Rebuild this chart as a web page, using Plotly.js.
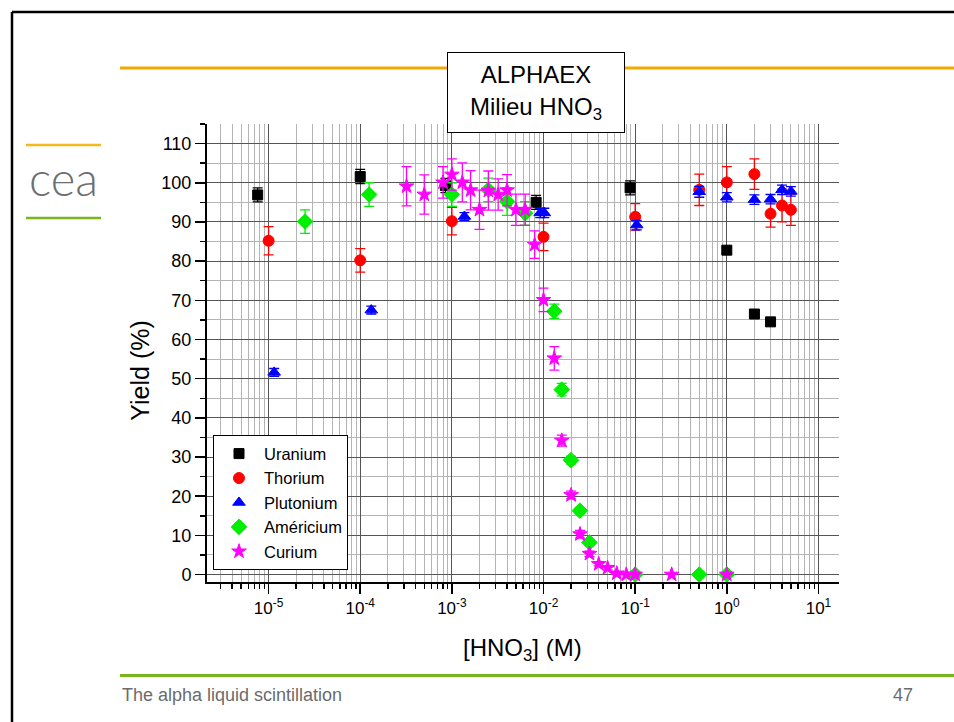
<!DOCTYPE html>
<html>
<head>
<meta charset="utf-8">
<script src="https://cdn.plot.ly/plotly-3.0.1.min.js"></script>
<style>
html,body{margin:0;padding:0;background:#fff;}
#chart{width:954px;height:722px;}
</style>
</head>
<body>
<div id="chart"></div>
<script>
// ---- data ----
var seriesNames = ['Uranium', 'Thorium', 'Plutonium', 'Américium', 'Curium'];

var uraniumX = [7.6e-6, 1e-4, 8.5e-4, 8.3e-3, 0.088, 1, 2, 3];
var uraniumY = [96.9, 101.6, 99.3, 95.0, 98.7, 82.8, 66.5, 64.5];
var uraniumErr = [1.8, 1.8, 1.8, 1.8, 1.8, 0.8, 0.8, 0.8];

var thoriumX = [1e-5, 1e-4, 1e-3, 0.01, 0.1, 0.5, 1, 2, 3, 4, 5];
var thoriumY = [85.2, 80.2, 90.2, 86.2, 91.3, 98.2, 100.1, 102.2, 92.1, 94.2, 93.1];
var thoriumErr = [3.6, 3.0, 3.5, 3.5, 3.4, 4.0, 4.0, 3.9, 3.4, 4.2, 4.0];

var plutoniumX = [1.15e-5, 1.32e-4, 1.37e-3, 9.2e-3, 1.02e-2, 0.104, 0.5, 1, 2, 3, 4, 5];
var plutoniumY = [51.6, 67.5, 91.4, 92.3, 92.3, 89.2, 97.7, 96.3, 95.7, 95.8, 98.2, 97.8];
var plutoniumErr = [1.0, 1.0, 1.0, 1.2, 1.2, 1.2, 1.4, 1.2, 1.2, 1.2, 1.2, 1.2];

var americiumX = [2.5e-5, 1.25e-4, 1e-3, 2.5e-3, 4e-3, 6.3e-3, 0.0131, 0.0158, 0.0199, 0.0249, 0.0317, 0.1, 0.5, 1];
var americiumY = [90.1, 97.0, 97.0, 98.2, 95.2, 92.2, 67.2, 47.2, 29.2, 16.3, 8.2, 0, 0, 0];
var americiumErr = [3.0, 3.0, 3.0, 3.0, 3.5, 3.0, 1.8, 1.6, 1.0, 0.8, 0.8, 0.5, 0.5, 0.5];

var curiumX = [3.2e-4, 5e-4, 8e-4, 1e-3, 1.3e-3, 1.6e-3, 2e-3, 2.5e-3, 3.2e-3, 4e-3, 5e-3, 6.3e-3, 8e-3, 0.01, 0.0131, 0.0158, 0.02, 0.025, 0.0317, 0.04, 0.05, 0.063, 0.08, 0.1, 0.25, 1];
var curiumY = [99.1, 97.0, 100.1, 102.1, 100.1, 98.1, 93.1, 98.0, 97.0, 98.1, 93.1, 93.1, 84.2, 70.1, 55.2, 34.2, 20.3, 10.3, 5.3, 2.7, 1.7, 0.3, 0, 0, 0, 0];
var curiumErr = [5, 5, 4, 4, 5, 5, 5, 5, 4, 4, 4, 4, 3.5, 3, 3, 1.4, 1, 1, 0.7, 0.5, 0.5, 0.3, 0, 0, 0, 0];

var xTickVals = [1e-5, 1e-4, 1e-3, 1e-2, 1e-1, 1, 10];
var xTickText = ['10<sup>-5</sup>', '10<sup>-4</sup>', '10<sup>-3</sup>', '10<sup>-2</sup>', '10<sup>-1</sup>', '10<sup>0</sup>', '10<sup>1</sup>'];
var yTickVals = [0, 10, 20, 30, 40, 50, 60, 70, 80, 90, 100, 110];
var yTickText = ['0', '10', '20', '30', '40', '50', '60', '70', '80', '90', '100', '110'];

// minor log ticks (2..9 of each decade)
var decades = [-6, -5, -4, -3, -2, -1, 0, 1];
var minorVals = [];
decades.forEach(function (d) {
  for (var m = 2; m <= 9; m++) minorVals.push(m * Math.pow(10, d));
});

var FONT = 'Liberation Sans, Arial, sans-serif';

function mk(name, x, y, err, color, symbol, size) {
  return {
    type: 'scatter', mode: 'markers', name: name, x: x, y: y,
    marker: {color: color, symbol: symbol, size: size, line: {color: color, width: 1}},
    error_y: {type: 'data', array: err, visible: true, color: color, thickness: 1.3, width: 5},
    cliponaxis: false
  };
}

var traces = [
  mk(seriesNames[0], uraniumX, uraniumY, uraniumErr, '#000000', 'square', 10),
  mk(seriesNames[1], thoriumX, thoriumY, thoriumErr, '#ff0000', 'circle', 11),
  mk(seriesNames[2], plutoniumX, plutoniumY, plutoniumErr, '#0000ff', 'triangle-up', 11),
  mk(seriesNames[3], americiumX, americiumY, americiumErr, '#00ee00', 'diamond', 12),
  mk(seriesNames[4], curiumX, curiumY, curiumErr, '#ff00ff', 'star', 11)
];

// plot area in pixels: x 207..839, y 124..582.5
function px(x) { return (x - 207) / 632; }
function py(y) { return (582.5 - y) / 458.5; }

var layout = {
  width: 954, height: 722,
  margin: {l: 207, r: 115, t: 124, b: 139.5, pad: 0},
  paper_bgcolor: '#ffffff', plot_bgcolor: '#ffffff',
  font: {family: FONT, size: 17, color: '#000'},
  showlegend: true,
  legend: {
    x: px(213), y: py(435.7), xanchor: 'left', yanchor: 'top',
    bgcolor: '#ffffff', bordercolor: '#000', borderwidth: 1,
    font: {family: FONT, size: 16.5, color: '#000'},
    itemsizing: 'trace', itemwidth: 40, tracegroupgap: 0
  },
  xaxis: {
    type: 'log', range: [-5.672, 1.224],
    tickmode: 'array', tickvals: xTickVals, ticktext: xTickText,
    ticks: 'outside', ticklen: 10, tickwidth: 1.5, tickcolor: '#000',
    showline: true, linecolor: '#000', linewidth: 2,
    showgrid: true, gridcolor: '#555555', gridwidth: 1,
    zeroline: false,
    tickfont: {family: FONT, size: 17, color: '#000'},
    minor: {tickmode: 'array', tickvals: minorVals, ticks: 'outside', ticklen: 5, tickwidth: 1.5, tickcolor: '#000',
            showgrid: true, gridcolor: '#b4b4b4', gridwidth: 1}
  },
  yaxis: {
    range: [-1.9, 115],
    tickmode: 'array', tickvals: yTickVals, ticktext: yTickText,
    ticks: 'outside', ticklen: 10, tickwidth: 1.5, tickcolor: '#000',
    showline: true, linecolor: '#000', linewidth: 2,
    showgrid: true, gridcolor: '#555555', gridwidth: 1,
    zeroline: false,
    tickfont: {family: FONT, size: 18, color: '#000'},
    minor: {dtick: 5, tick0: 0, ticks: 'outside', ticklen: 5, tickwidth: 1.5, tickcolor: '#000',
            showgrid: true, gridcolor: '#b4b4b4', gridwidth: 1}
  },
  shapes: [
    // slide frame
    {type: 'line', xref: 'paper', yref: 'paper', x0: px(12), x1: px(960), y0: py(12), y1: py(12), line: {color: '#000', width: 2.5}},
    {type: 'line', xref: 'paper', yref: 'paper', x0: px(12), x1: px(12), y0: py(12), y1: py(730), line: {color: '#000', width: 2.5}},
    // orange header line (split around the title box)
    {type: 'line', xref: 'paper', yref: 'paper', x0: px(120), x1: px(447), y0: py(68), y1: py(68), line: {color: '#f5a800', width: 3}},
    {type: 'line', xref: 'paper', yref: 'paper', x0: px(625), x1: px(960), y0: py(68), y1: py(68), line: {color: '#f5a800', width: 3}},
    // logo lines
    {type: 'line', xref: 'paper', yref: 'paper', x0: px(26), x1: px(101), y0: py(145), y1: py(145), line: {color: '#f5b820', width: 2.5}},
    {type: 'line', xref: 'paper', yref: 'paper', x0: px(26), x1: px(101), y0: py(218), y1: py(218), line: {color: '#7ab51d', width: 2.5}},
    // footer green line
    {type: 'line', xref: 'paper', yref: 'paper', x0: px(120), x1: px(960), y0: py(676), y1: py(676), line: {color: '#7ab51d', width: 3}}
  ],
  annotations: [
    {xref: 'paper', yref: 'paper', x: px(536), y: py(92.5), xanchor: 'center', yanchor: 'middle',
     text: 'ALPHAEX<br>Milieu HNO<sub>3</sub>', showarrow: false,
     font: {family: FONT, size: 24, color: '#000'}, align: 'center',
     bgcolor: '#ffffff', bordercolor: '#000', borderwidth: 1, borderpad: 0, width: 176, height: 79},
    {xref: 'paper', yref: 'paper', x: px(140), y: py(371), xanchor: 'center', yanchor: 'middle',
     text: 'Yield (%)', textangle: -90, showarrow: false, font: {family: FONT, size: 25, color: '#000'}},
    {xref: 'paper', yref: 'paper', x: px(522), y: py(650), xanchor: 'center', yanchor: 'middle',
     text: '[HNO<sub>3</sub>] (M)', showarrow: false, font: {family: FONT, size: 24, color: '#000'}},
    {xref: 'paper', yref: 'paper', x: px(63), y: py(178), xanchor: 'center', yanchor: 'middle',
     text: 'cea', showarrow: false, font: {family: 'Lato, sans-serif', size: 47, color: '#6d6e71', weight: 300}},
    {xref: 'paper', yref: 'paper', x: px(120), y: py(696), xanchor: 'left', yanchor: 'middle',
     text: 'The alpha liquid scintillation', showarrow: false, font: {family: FONT, size: 18, color: '#6b6b6b'}},
    {xref: 'paper', yref: 'paper', x: px(903), y: py(696), xanchor: 'center', yanchor: 'middle',
     text: '47', showarrow: false, font: {family: FONT, size: 18, color: '#6b6b6b'}}
  ]
};

Plotly.newPlot('chart', traces, layout, {displayModeBar: false, staticPlot: true});
</script>
</body>
</html>
